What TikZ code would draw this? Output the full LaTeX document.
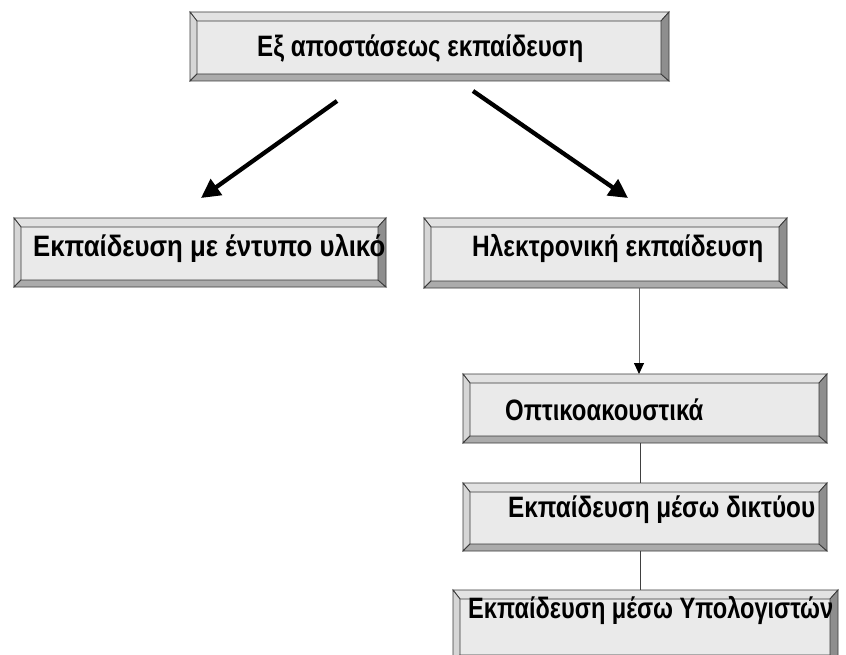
\documentclass[tikz,border=0pt]{standalone}
\usepackage{fontspec}
\usepackage{graphicx}
\setmainfont{Liberation Sans}
\newfontfamily\lblfont{Liberation Sans}
\usetikzlibrary{calc,arrows.meta}
\definecolor{face}{HTML}{EAEAEA}
\definecolor{bevlight}{HTML}{E2E2E2}
\definecolor{bevleft}{HTML}{D6D6D6}
\definecolor{bevbottom}{HTML}{ABABAB}
\definecolor{bevright}{HTML}{8E8E8E}
\definecolor{edge}{HTML}{3A3A3A}
\tikzset{
  boxshape/.style={inner sep=0pt, outer sep=0pt, draw=none},
  bevedge/.style={draw=edge, line width=0.8pt, line join=miter},
  lbl/.style={font=\lblfont\bfseries\fontsize{29.5}{32}\selectfont, anchor=base west, inner sep=0pt},
  bigarrow/.style={line width=4.3pt, -{Triangle[length=19pt,width=19pt]}},
  thinarrow/.style={draw=black!60, line width=0.9pt, -{Triangle[length=11pt,width=10pt,color=black]}},
  joinline/.style={draw=black!75, line width=0.9pt},
}
\newcommand\fitw[2]{\resizebox{#1pt}{\height}{#2}}
\newcommand\bevelbox[5]{%
  \node[boxshape, minimum width={(#4-#2)*1pt}, minimum height={(#5-#3)*1pt}] (#1) at ({(#2+#4)/2},{(#3+#5)/2}) {};
  \coordinate (#1-a) at ($(#1.north west)+(7,9)$);
  \coordinate (#1-b) at ($(#1.north east)+(-8,9)$);
  \coordinate (#1-c) at ($(#1.south east)+(-8,-7)$);
  \coordinate (#1-d) at ($(#1.south west)+(7,-7)$);
  \fill[face] (#1-a) rectangle (#1-c);
  \filldraw[fill=bevlight, bevedge] (#1.north west) -- (#1.north east) -- (#1-b) -- (#1-a) -- cycle;
  \filldraw[fill=bevleft, bevedge] (#1.north west) -- (#1-a) -- (#1-d) -- (#1.south west) -- cycle;
  \filldraw[fill=bevbottom, bevedge] (#1.south west) -- (#1-d) -- (#1-c) -- (#1.south east) -- cycle;
  \filldraw[fill=bevright, bevedge] (#1.north east) -- (#1-b) -- (#1-c) -- (#1.south east) -- cycle;
}
\begin{document}
\begin{tikzpicture}[x=1pt,y=-1pt]
  \clip (0,0) rectangle (846,655);
  \fill[white] (0,0) rectangle (846,655);
  % boxes
  \bevelbox{top}{190}{12}{669}{81}
  \bevelbox{print}{14}{218}{386}{287}
  \bevelbox{elec}{424}{218}{787}{288}
  \bevelbox{av}{463}{374}{827}{443}
  \bevelbox{net}{463}{483}{827}{551}
  \bevelbox{comp}{453}{590}{838}{662}
  % labels
  \node[lbl] (ttop) at (257,57) {\fitw{326}{Εξ αποστάσεως εκπαίδευση}};
  \node[lbl] (tprint) at (33,257) {\fitw{352}{Εκπαίδευση με έντυπο υλικό}};
  \node[lbl] (telec) at (472,257) {\fitw{291}{Ηλεκτρονική εκπαίδευση}};
  \node[lbl] (tav) at (505,420) {\fitw{198}{Οπτικοακουστικά}};
  \node[lbl] (tnet) at (508,517) {\fitw{307}{Εκπαίδευση μέσω δικτύου}};
  \node[lbl] (tcomp) at (468,618) {\fitw{365}{Εκπαίδευση μέσω Υπολογιστών}};
  % connectors
  \coordinate (ls) at (337,101);
  \coordinate (le) at (201,198);
  \coordinate (rs) at (473,91);
  \coordinate (re) at (628,198);
  \draw[bigarrow] (ls) -- (le);
  \draw[bigarrow] (rs) -- (re);
  \coordinate (vx) at (639,0);
  \coordinate (wx) at (640,0);
  \draw[thinarrow] (elec.south -| vx) -- (av.north -| vx);
  \draw[joinline] (av.south -| wx) -- (net.north -| wx);
  \draw[joinline] (net.south -| wx) -- (comp.north -| wx);
\end{tikzpicture}
\end{document}
